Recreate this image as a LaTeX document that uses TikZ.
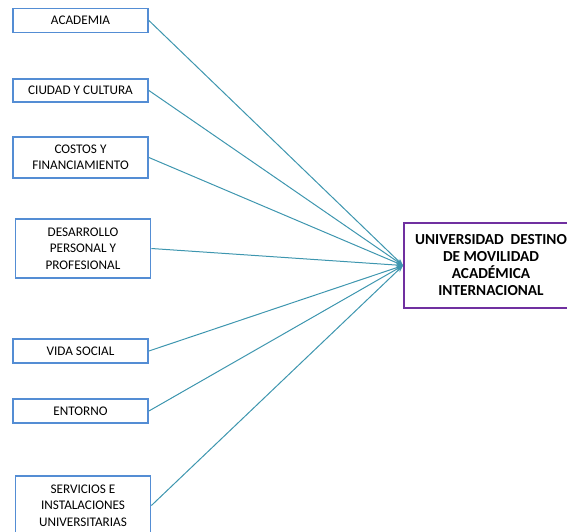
\documentclass[tikz,border=0pt]{standalone}
\usepackage{fontspec}
\setmainfont{Carlito}
\usetikzlibrary{arrows.meta}
\definecolor{boxblue}{RGB}{84,141,212}
\definecolor{linkteal}{RGB}{62,150,175}
\definecolor{destpurple}{RGB}{112,48,160}
\begin{document}
\begin{tikzpicture}[x=1pt,y=-1pt,
    factor/.style={draw=boxblue,line width=1.8pt,fill=white,minimum width=135pt,
        inner sep=0pt,align=center,font=\fontsize{13.2}{16.5}\selectfont},
    link/.style={draw=linkteal,line width=1pt,-{Stealth[length=7pt,width=5pt]}}]
        % Fix the frame of the picture
        \useasboundingbox (0,0) rectangle (567,531);
        \clip (0,0) rectangle (567,531);

        % Draw the factor boxes on the left
        \node[factor,minimum height=24pt] (academia) at (80.5,20.5) {ACADEMIA};
        \node[factor,minimum height=23pt] (ciudad) at (80.5,90.5) {CIUDAD Y CULTURA};
        \node[factor,minimum height=41pt] (costos) at (80.5,157.5) {COSTOS Y\\FINANCIAMIENTO};
        \node[factor,minimum height=59pt] (desarrollo) at (83,248.5) {DESARROLLO\\PERSONAL Y\\PROFESIONAL};
        \node[factor,minimum height=24pt] (vida) at (80.5,351) {VIDA SOCIAL};
        \node[factor,minimum height=24pt] (entorno) at (80.5,411) {ENTORNO};
        \node[factor,minimum height=59pt] (servicios) at (83,505.5) {SERVICIOS E\\INSTALACIONES\\UNIVERSITARIAS};

        % Draw the destination box on the right
        \node[draw=destpurple,line width=1.8pt,fill=white,minimum width=174pt,minimum height=85pt,
            inner sep=0pt,align=center,font=\fontsize{15.3}{17}\selectfont\bfseries]
            (destino) at (491,265.5) {UNIVERSIDAD\ \ DESTINO\\DE MOVILIDAD\\ACAD\'EMICA\\INTERNACIONAL};

        % Draw the connectors
        \foreach \f in {academia,ciudad,costos,desarrollo,vida,entorno,servicios}
            \draw[link] (\f.east) -- (destino.west);

    \end{tikzpicture}
\end{document}
